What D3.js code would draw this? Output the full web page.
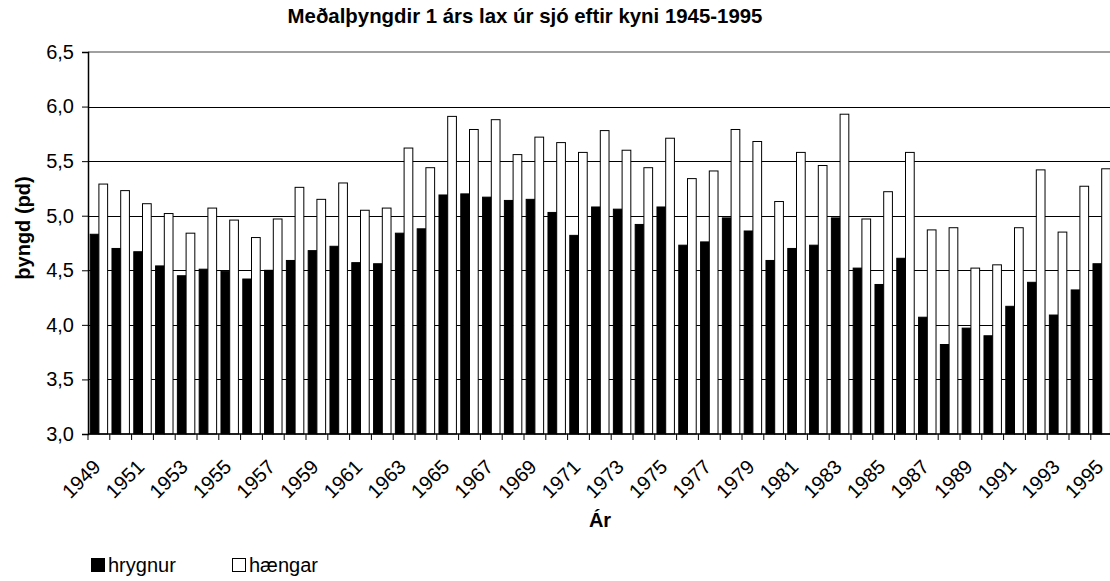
<!DOCTYPE html>
<html>
<head>
<meta charset="utf-8">
<script src="https://cdn.jsdelivr.net/npm/d3@7"></script>
<style>
  body { margin: 0; background: #fff; }
  svg { display: block; font-family: "Liberation Sans", Arial, sans-serif; }
</style>
</head>
<body>
<script>
// Meðalþyngdir 1 árs lax úr sjó eftir kyni
var years = d3.range(1949, 1996)
var hrygnur = [4.83, 4.70, 4.67, 4.54, 4.45, 4.51, 4.49, 4.42, 4.50, 4.59,
  4.68, 4.72, 4.57, 4.56, 4.84, 4.88, 5.19, 5.20, 5.17, 5.14,
  5.15, 5.03, 4.82, 5.08, 5.06, 4.92, 5.08, 4.73, 4.76, 4.98,
  4.86, 4.59, 4.70, 4.73, 4.98, 4.52, 4.37, 4.61, 4.07, 3.82,
  3.97, 3.90, 4.17, 4.39, 4.09, 4.32, 4.56]
var haengar = [5.29, 5.23, 5.11, 5.02, 4.84, 5.07, 4.96, 4.80, 4.97, 5.26,
  5.15, 5.30, 5.05, 5.07, 5.62, 5.44, 5.91, 5.79, 5.88, 5.56,
  5.72, 5.67, 5.58, 5.78, 5.60, 5.44, 5.71, 5.34, 5.41, 5.79,
  5.68, 5.13, 5.58, 5.46, 5.93, 4.97, 5.22, 5.58, 4.87, 4.89,
  4.52, 4.55, 4.89, 5.42, 4.85, 5.27, 5.43]
var series = ["hrygnur", "hængar"]
var fills = ["#000000", "#ffffff"]
var yTicks = [3.0, 3.5, 4.0, 4.5, 5.0, 5.5, 6.0, 6.5]

var width = 1110, height = 581
var margin = { left: 88, top: 52, bottom: 147 }
var plotRight = 1112.6
var plotBottom = height - margin.bottom

var svg = d3.select("body").append("svg")
  .attr("width", width)
  .attr("height", height)

var x0 = d3.scaleBand().domain(years).range([margin.left, plotRight]).padding(0)
var x1 = d3.scaleBand().domain(series).range([x0.bandwidth() * 0.1, x0.bandwidth() * 0.9]).padding(0)
var y = d3.scaleLinear().domain([3, 6.5]).range([plotBottom, margin.top])

// gridlines
svg.append("g").selectAll("line")
  .data(yTicks.slice(1, -1))
  .enter().append("line")
  .attr("x1", margin.left).attr("x2", plotRight)
  .attr("y1", d => Math.round(y(d)) + 0.5).attr("y2", d => Math.round(y(d)) + 0.5)
  .attr("stroke", "#000").attr("stroke-width", 1)

// top border of plot area
svg.append("line")
  .attr("x1", margin.left).attr("x2", plotRight)
  .attr("y1", y(6.5)).attr("y2", y(6.5))
  .attr("stroke", "#808080").attr("stroke-width", 1.5)

// bars
var rows = years.map((yr, i) => ({ year: yr, values: [hrygnur[i], haengar[i]] }))
svg.append("g").selectAll("g")
  .data(rows)
  .enter().append("g")
  .attr("transform", d => "translate(" + x0(d.year) + ",0)")
  .selectAll("rect")
  .data(d => d.values.map((v, k) => ({ key: series[k], value: v, k: k })))
  .enter().append("rect")
  .attr("x", d => x1(d.key))
  .attr("width", x1.bandwidth())
  .attr("y", d => y(d.value))
  .attr("height", d => y(3) - y(d.value))
  .attr("fill", d => fills[d.k])
  .attr("stroke", "#000")
  .attr("stroke-width", 1)

// y axis
var yAxis = svg.append("g")
  .attr("transform", "translate(" + margin.left + ",0)")
  .call(d3.axisLeft(y).tickValues(yTicks).tickSize(6).tickPadding(8)
    .tickFormat(d => d3.format(".1f")(d).replace(".", ",")))
yAxis.select(".domain").attr("stroke", "#000").attr("stroke-width", 1.5)
yAxis.selectAll("text").attr("font-size", 20).attr("fill", "#000")
  .attr("font-family", "Liberation Sans, Arial, sans-serif")

// x axis: ticks at category boundaries
var bounds = years.map(yr => x0(yr))
svg.append("g").selectAll("line")
  .data(bounds)
  .enter().append("line")
  .attr("x1", d => d).attr("x2", d => d)
  .attr("y1", plotBottom).attr("y2", plotBottom + 6)
  .attr("stroke", "#000")
svg.append("line")
  .attr("x1", margin.left).attr("x2", plotRight)
  .attr("y1", plotBottom).attr("y2", plotBottom)
  .attr("stroke", "#000").attr("stroke-width", 1.5)

svg.append("g").selectAll("text")
  .data(years.filter((yr, i) => i % 2 === 0))
  .enter().append("text")
  .attr("x", d => x0(d) + x0.bandwidth() / 2 - 7)
  .attr("y", plotBottom + 24)
  .attr("dy", "0.71em")
  .attr("text-anchor", "end")
  .attr("transform", d => "rotate(-45," + (x0(d) + x0.bandwidth() / 2 - 7) + "," + (plotBottom + 24) + ")")
  .attr("font-size", 20)
  .text(d => d)

// titles
svg.append("text")
  .attr("x", 525).attr("y", 23)
  .attr("text-anchor", "middle")
  .attr("font-size", 20.4).attr("font-weight", "bold")
  .text("Meðalþyngdir 1 árs lax úr sjó eftir kyni 1945-1995")

svg.append("text")
  .attr("transform", "translate(30,228) rotate(-90)")
  .attr("text-anchor", "middle")
  .attr("font-size", 20).attr("font-weight", "bold")
  .text("þyngd (pd)")

svg.append("text")
  .attr("x", 600).attr("y", 527)
  .attr("text-anchor", "middle")
  .attr("font-size", 20).attr("font-weight", "bold")
  .text("Ár")

// legend
var legend = svg.append("g").selectAll("g")
  .data(series)
  .enter().append("g")
  .attr("transform", (d, i) => "translate(" + (91 + i * 141) + ",558)")
legend.append("rect")
  .attr("x", 0.5).attr("y", 0.5)
  .attr("width", 13).attr("height", 13)
  .attr("fill", (d, i) => fills[i])
  .attr("stroke", "#000")
legend.append("text")
  .attr("x", 17).attr("y", 14)
  .attr("font-size", 20)
  .text(d => d)
</script>
</body>
</html>
